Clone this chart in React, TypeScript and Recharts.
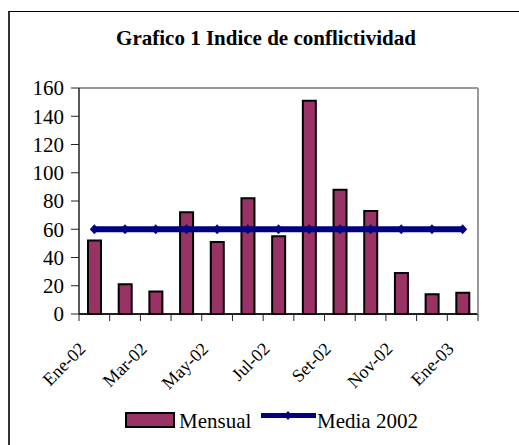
import React from 'react';
import { ComposedChart, Bar, Line, XAxis, YAxis, CartesianGrid, Legend, ReferenceLine } from 'recharts';

const months = ['Ene-02', 'Feb-02', 'Mar-02', 'Abr-02', 'May-02', 'Jun-02', 'Jul-02', 'Ago-02', 'Set-02', 'Oct-02', 'Nov-02', 'Dic-02', 'Ene-03'];
const mensual = [52, 21, 16, 72, 51, 82, 55, 151, 88, 73, 29, 14, 15];
const media2002 = [60, 60, 60, 60, 60, 60, 60, 60, 60, 60, 60, 60, 60];
const yTicks = [0, 20, 40, 60, 80, 100, 120, 140, 160];

const data = months.map((m, i) => ({ month: m, mensual: mensual[i], media: media2002[i] }));

const W = 519;
const H = 445;
const M_LEFT = 79;
const M_RIGHT = 41;
const PLOT_W = W - M_LEFT - M_RIGHT;
const HALF_BAND = PLOT_W / months.length / 2;
const FONT = "'Liberation Serif', 'Times New Roman', serif";
const BAR_FILL = '#993366';
const LINE_COLOR = '#000080';

const XTick = (props: any) => {
  const { x, y, index } = props;
  const last = index === months.length - 1;
  return (
    <g>
      <line x1={x - HALF_BAND} y1={y} x2={x - HALF_BAND} y2={y + 7} stroke="#222" strokeWidth={1} />
      {last && <line x1={x + HALF_BAND} y1={y} x2={x + HALF_BAND} y2={y + 7} stroke="#222" strokeWidth={1} />}
      {index % 2 === 0 && (
        <text
          x={x - 7.7}
          y={y + 36}
          textAnchor="end"
          transform={`rotate(-45 ${x - 7.7} ${y + 36})`}
          style={{ fontSize: 18, fontFamily: FONT, fill: '#000' }}
        >
          {props.payload.value}
        </text>
      )}
    </g>
  );
};

const YTick = (props: any) => {
  const { x, y, payload } = props;
  return (
    <text x={x} y={y} dy="0.355em" textAnchor="end" style={{ fontSize: 21, fontFamily: FONT, fill: '#000' }}>
      {payload.value}
    </text>
  );
};

const Diamond = (props: any) => {
  const { cx, cy } = props;
  if (cx == null || cy == null) return null;
  return <path d={`M${cx - 4.5},${cy} L${cx},${cy - 5} L${cx + 4.5},${cy} L${cx},${cy + 5} Z`} fill={LINE_COLOR} />;
};

const LegendContent = () => (
  <svg width={W} height={40} style={{ display: 'block' }}>
    <rect x={126} y={14} width={48} height={14} fill={BAR_FILL} stroke="#000" strokeWidth={2} />
    <text x={179} y={28.5} style={{ fontSize: 21, fontFamily: FONT, fill: '#000' }}>Mensual</text>
    <line x1={261} y1={16.5} x2={316} y2={16.5} stroke={LINE_COLOR} strokeWidth={5} />
    <path d="M284,16.5 L288,12 L292,16.5 L288,21 Z" fill={LINE_COLOR} />
    <text x={317} y={28.5} style={{ fontSize: 21, fontFamily: FONT, fill: '#000' }}>Media 2002</text>
  </svg>
);

export default function App() {
  return (
    <div style={{ position: 'absolute', left: 0, top: 0, width: W, height: H, background: '#fff', overflow: 'hidden', fontFamily: FONT }}>
      <div
        style={{
          position: 'absolute',
          left: 8,
          top: 11,
          width: W - 8,
          height: H - 11,
          borderLeft: '2px solid #333',
          borderTop: '1px solid #000',
          boxSizing: 'border-box',
        }}
      />
      <div
        style={{
          position: 'absolute',
          left: 0,
          top: 26,
          width: 532,
          textAlign: 'center',
          fontFamily: FONT,
          fontWeight: 'bold',
          fontSize: 21,
          lineHeight: '24px',
          color: '#000',
        }}
      >
        Grafico 1 Indice de conflictividad
      </div>
      <div style={{ position: 'absolute', left: 0, top: 0 }}>
        <ComposedChart width={W} height={H} data={data} margin={{ top: 88, right: 0, left: 0, bottom: 0 }} barSize={13}>
          <CartesianGrid vertical={false} horizontal stroke="#000" strokeWidth={1} />
          <XAxis
            dataKey="month"
            interval={0}
            height={131}
            tickLine={false}
            tickSize={0}
            tickMargin={0}
            axisLine={{ stroke: '#000', strokeWidth: 1.5 }}
            tick={<XTick />}
          />
          <YAxis
            yAxisId="left"
            domain={[0, 160]}
            ticks={yTicks}
            interval={0}
            width={M_LEFT}
            tickSize={8}
            tickMargin={7}
            axisLine={{ stroke: '#222', strokeWidth: 1.5 }}
            tickLine={{ stroke: '#222' }}
            tick={<YTick />}
          />
          <YAxis
            yAxisId="right"
            orientation="right"
            domain={[0, 160]}
            width={M_RIGHT}
            tick={false}
            tickLine={false}
            axisLine={{ stroke: '#999', strokeWidth: 2 }}
          />
          <ReferenceLine yAxisId="left" y={160} stroke="#999" strokeWidth={2} />
          <Bar yAxisId="left" dataKey="mensual" name="Mensual" fill={BAR_FILL} stroke="#000" strokeWidth={2} isAnimationActive={false} />
          <Line
            yAxisId="left"
            dataKey="media"
            name="Media 2002"
            type="linear"
            stroke={LINE_COLOR}
            strokeWidth={6}
            dot={<Diamond />}
            activeDot={false}
            isAnimationActive={false}
          />
          <Legend
            layout="horizontal"
            verticalAlign="middle"
            align="center"
            content={<LegendContent />}
            wrapperStyle={{ position: 'absolute', left: 0, top: 399, width: W, height: 40 }}
          />
        </ComposedChart>
      </div>
    </div>
  );
}
